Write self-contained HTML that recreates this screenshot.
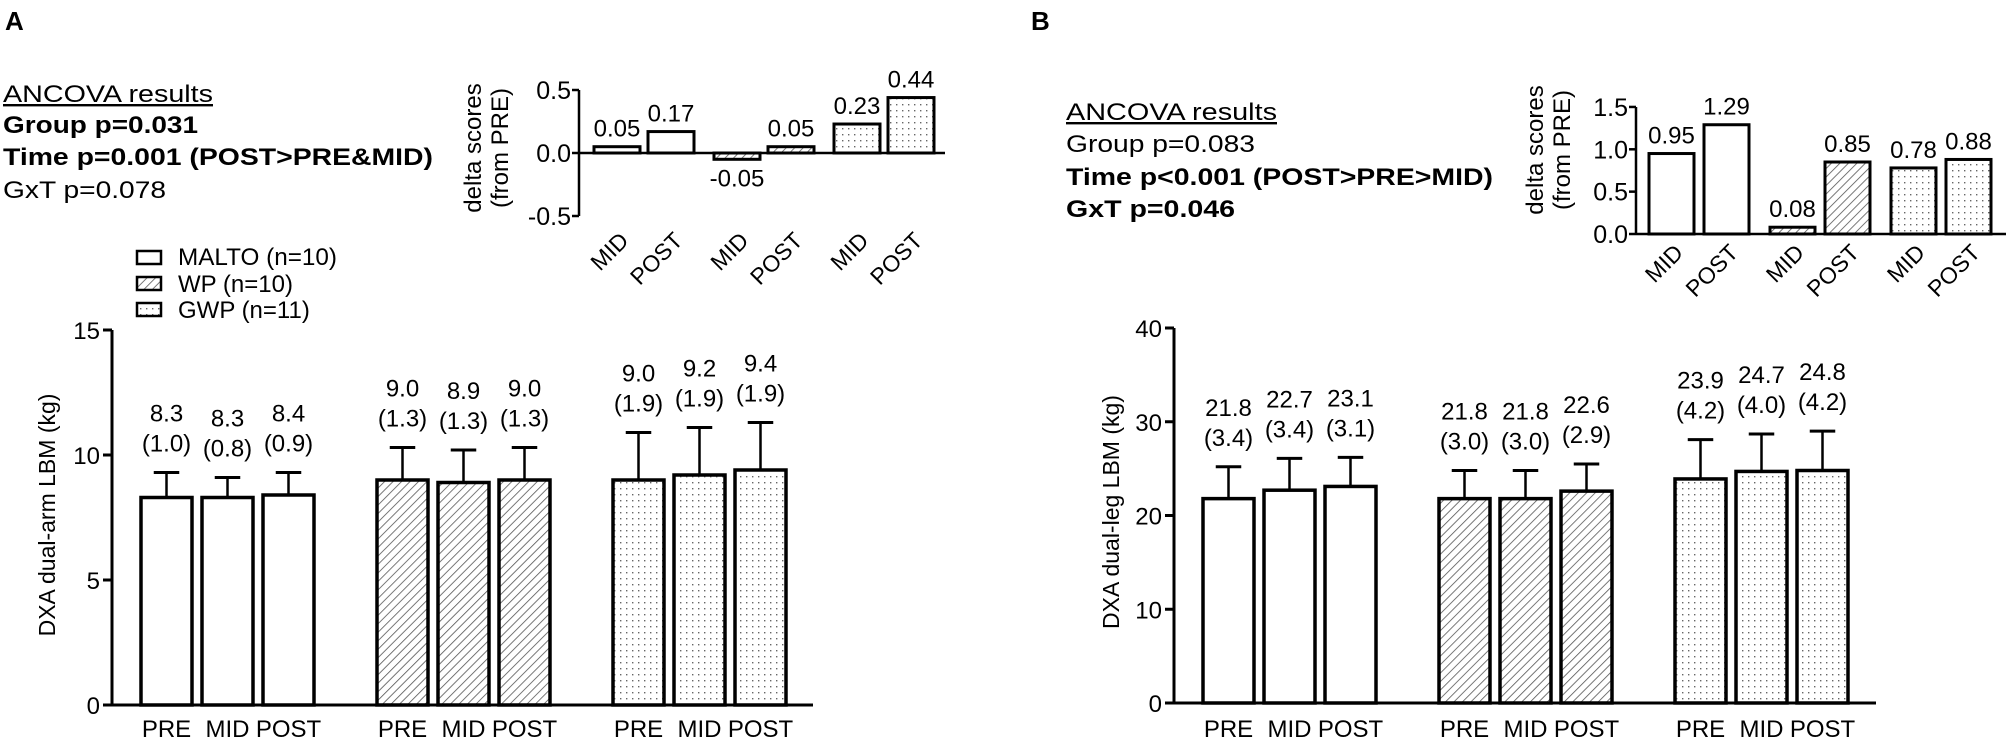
<!DOCTYPE html>
<html><head><meta charset="utf-8"><style>
html,body{margin:0;padding:0;background:#fff}
svg{display:block;font-family:"Liberation Sans",Arial,sans-serif}
</style></head><body>
<svg id="s" width="2008" height="741" viewBox="0 0 2008 741" xmlns="http://www.w3.org/2000/svg">
<defs>
<pattern id="hatch" patternUnits="userSpaceOnUse" width="6" height="6" patternTransform="rotate(45)">
<rect width="6" height="6" fill="#fff"/><line x1="0" y1="0" x2="0" y2="6" stroke="#555" stroke-width="1.6"/></pattern>
<pattern id="dots" patternUnits="userSpaceOnUse" width="6" height="6">
<rect width="6" height="6" fill="#fff"/><rect x="2" y="2" width="1.4" height="1.4" fill="#666"/></pattern>
</defs>
<text x="5" y="30" font-size="26" font-weight="bold">A</text>
<text x="1031" y="30" font-size="26" font-weight="bold">B</text>
<g font-size="24">
<text x="3" y="102" textLength="210" lengthAdjust="spacingAndGlyphs" text-decoration="underline">ANCOVA results</text>
<text x="3" y="133" textLength="195" lengthAdjust="spacingAndGlyphs" font-weight="bold">Group p=0.031</text>
<text x="3" y="165" textLength="430" lengthAdjust="spacingAndGlyphs" font-weight="bold">Time p=0.001 (POST&gt;PRE&amp;MID)</text>
<text x="3" y="198" textLength="163" lengthAdjust="spacingAndGlyphs">GxT p=0.078</text>
</g>
<g font-size="24">
<text x="1066" y="120" textLength="211" lengthAdjust="spacingAndGlyphs" text-decoration="underline">ANCOVA results</text>
<text x="1066" y="152" textLength="189" lengthAdjust="spacingAndGlyphs">Group p=0.083</text>
<text x="1066" y="185" textLength="427" lengthAdjust="spacingAndGlyphs" font-weight="bold">Time p&lt;0.001 (POST&gt;PRE&gt;MID)</text>
<text x="1066" y="217" textLength="169" lengthAdjust="spacingAndGlyphs" font-weight="bold">GxT p=0.046</text>
</g>
<g font-size="24">
<g><rect x="137" y="251" width="24" height="13" fill="#fff" stroke="#000" stroke-width="2.5"/><text x="178" y="265" textLength="159" lengthAdjust="spacingAndGlyphs">MALTO (n=10)</text></g>
<g><rect x="137" y="277" width="24" height="13" fill="url(#hatch)" stroke="#000" stroke-width="2.5"/><text x="178" y="292">WP (n=10)</text></g>
<g><rect x="137" y="303" width="24" height="13" fill="url(#dots)" stroke="#000" stroke-width="2.5"/><text x="178" y="318">GWP (n=11)</text></g>
</g>
<g id="root"></g>
</svg>
<script>
// Main chart A data
const timeLabels = ["PRE","MID","POST"];
const fills = ["#fff","url(#hatch)","url(#dots)"];
const armMeans = [[8.3,8.3,8.4],[9.0,8.9,9.0],[9.0,9.2,9.4]];
const armSD = [[1.0,0.8,0.9],[1.3,1.3,1.3],[1.9,1.9,1.9]];
const armTicks = [0,5,10,15];
// Main chart B data
const legMeans = [[21.8,22.7,23.1],[21.8,21.8,22.6],[23.9,24.7,24.8]];
const legSD = [[3.4,3.4,3.1],[3.0,3.0,2.9],[4.2,4.0,4.2]];
const legTicks = [0,10,20,30,40];
// Inset data
const deltaLabels = ["MID","POST"];
const armDelta = [[0.05,0.17],[-0.05,0.05],[0.23,0.44]];
const armDeltaTicks = [-0.5,0,0.5];
const legDelta = [[0.95,1.29],[0.08,0.85],[0.78,0.88]];
const legDeltaTicks = [0,0.5,1.0,1.5];

const NS="http://www.w3.org/2000/svg";
const root=document.getElementById('root');
function mk(tag,attrs,parent,text){const e=document.createElementNS(NS,tag);for(const k in attrs)e.setAttribute(k,attrs[k]);if(text!==undefined)e.textContent=text;(parent||root).appendChild(e);return e;}

function mainChart(cfg){
  const g=mk('g',{});
  
  
  const y=v=>cfg.y0-(v-cfg.min)/(cfg.max-cfg.min)*(cfg.y0-cfg.y1);
  const ax=mk('line',{x1:cfg.ax,y1:y(cfg.max),x2:cfg.ax,y2:cfg.y0,stroke:'#000','stroke-width':3},g);
  
  
  const xa=mk('line',{x1:cfg.ax-9,y1:cfg.y0,x2:cfg.axEnd,y2:cfg.y0,stroke:'#000','stroke-width':3},g);
  
  
  cfg.ticks.forEach(t=>{
    mk('line',{x1:cfg.ax-9,y1:y(t),x2:cfg.ax,y2:y(t),stroke:'#000','stroke-width':3},g);
    const tl=mk('text',{x:cfg.ax-12,y:y(t)+9,'font-size':24,'text-anchor':'end'},g,String(t));
    
    
  });
  const tt=mk('text',{transform:`translate(${cfg.titleX},${cfg.titleY}) rotate(-90)`,'font-size':23,'text-anchor':'middle'},g,cfg.title);
  
  
  cfg.means.forEach((grp,gi)=>grp.forEach((m,ti)=>{
    const x=cfg.x0+gi*cfg.gstep+ti*cfg.step, w=cfg.bw, cx=x+w/2;
    const sd=cfg.sd[gi][ti], et=y(m+sd);
    const el=mk('line',{x1:cx,y1:y(m),x2:cx,y2:et,stroke:'#000','stroke-width':2.5},g);
    
    
    mk('line',{x1:cx-w/4,y1:et,x2:cx+w/4,y2:et,stroke:'#000','stroke-width':3},g);
    const r=mk('rect',{x:x,y:y(m),width:w,height:cfg.y0-y(m),fill:fills[gi],stroke:'#000','stroke-width':3.5},g);
    
    
    const v1=mk('text',{x:cx,y:et-51,'font-size':24,'text-anchor':'middle'},g,m.toFixed(1));
    
    
    const v2=mk('text',{x:cx,y:et-21,'font-size':24,'text-anchor':'middle'},g,'('+sd.toFixed(1)+')');
    
    
    const xl=mk('text',{x:cx,y:737,'font-size':24,'text-anchor':'middle'},g,timeLabels[ti]);
    
    
  }));
}

function inset(cfg){
  const g=mk('g',{});
  
  
  const y=v=>cfg.yz-v*cfg.k;
  const tk=cfg.ticks;
  const ax=mk('line',{x1:cfg.ax,y1:y(tk[tk.length-1]),x2:cfg.ax,y2:y(tk[0]),stroke:'#000','stroke-width':2.5},g);
  
  
  const xa=mk('line',{x1:cfg.ax,y1:cfg.yz,x2:cfg.axEnd,y2:cfg.yz,stroke:'#000','stroke-width':2.5},g);
  
  
  tk.forEach(t=>{
    mk('line',{x1:cfg.ax-7,y1:y(t),x2:cfg.ax,y2:y(t),stroke:'#000','stroke-width':2.5},g);
    const tl=mk('text',{x:cfg.ax-8,y:y(t)+9,'font-size':25,'text-anchor':'end'},g,t.toFixed(1));
    
    
  });
  const t1=mk('text',{transform:`translate(${cfg.tx},${cfg.ty}) rotate(-90)`,'font-size':24,'text-anchor':'middle'},g,'delta scores');
  
  
  const t2=mk('text',{transform:`translate(${cfg.tx+27},${cfg.ty}) rotate(-90)`,'font-size':24,'text-anchor':'middle'},g,'(from PRE)');
  
  
  cfg.data.forEach((grp,gi)=>grp.forEach((v,ti)=>{
    const x=cfg.x0+gi*cfg.gstep+ti*cfg.step, w=cfg.bw, cx=x+w/2;
    const top=Math.min(y(v),cfg.yz), h=Math.abs(y(v)-cfg.yz);
    const r=mk('rect',{x:x,y:top,width:w,height:h,fill:fills[gi],stroke:'#000','stroke-width':3},g);
    
    
    const ly=v>=0?y(v)-10:y(v)+27;
    const vl=mk('text',{x:cx,y:ly,'font-size':24,'text-anchor':'middle'},g,v.toFixed(2));
    
    
    const xl=mk('text',{transform:`translate(${cx+13},${cfg.lblY}) rotate(-45)`,'font-size':23,'text-anchor':'end'},g,deltaLabels[ti]);
    
    
  }));
}

mainChart({name:'chart-a-dual-arm',means:armMeans,sd:armSD,ticks:armTicks,min:0,max:15,ax:112,axEnd:813,y0:705,y1:330,x0:141,bw:51,step:61,gstep:236,title:'DXA dual-arm LBM (kg)',titleX:55,titleY:515});
mainChart({name:'chart-b-dual-leg',means:legMeans,sd:legSD,ticks:legTicks,min:0,max:40,ax:1174,axEnd:1876,y0:703,y1:328,x0:1203,bw:51,step:61,gstep:236,title:'DXA dual-leg LBM (kg)',titleX:1119,titleY:512});
inset({name:'inset-a-delta',data:armDelta,ticks:armDeltaTicks,ax:579,axEnd:945,yz:153,k:126,x0:594,bw:46,step:54,gstep:120,tx:481,ty:148,lblY:242});
inset({name:'inset-b-delta',data:legDelta,ticks:legDeltaTicks,ax:1636,axEnd:2006,yz:234,k:84.7,x0:1649,bw:45,step:55,gstep:121,tx:1543,ty:150,lblY:254});
</script>
</body></html>
